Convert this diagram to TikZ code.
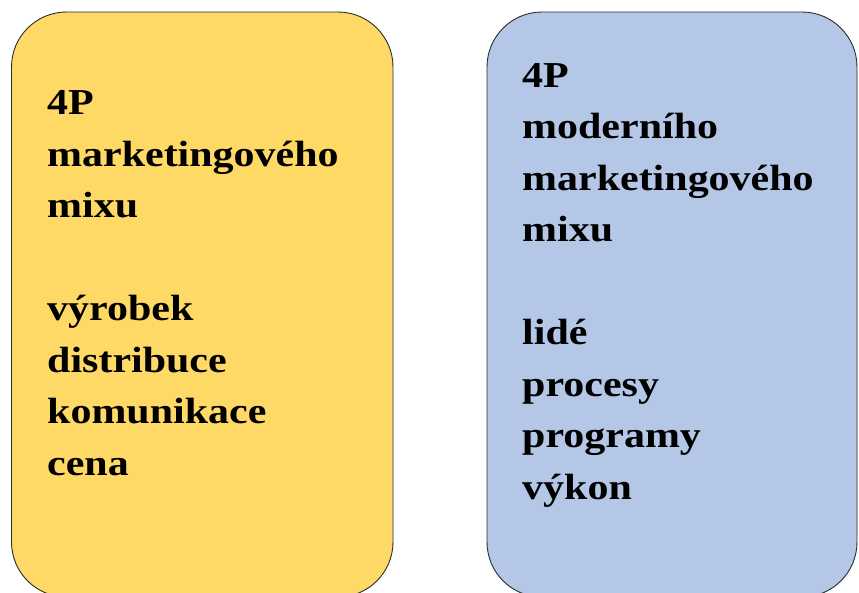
\documentclass[tikz,border=0pt]{standalone}
\usepackage{fontspec}
\newfontfamily\tnr[FakeStretch=1.15]{Liberation Serif}
\definecolor{goldbox}{HTML}{FFD966}
\definecolor{bluebox}{HTML}{B4C7E7}
\definecolor{edge}{HTML}{2B2B2B}
\begin{document}
\begin{tikzpicture}[x=1pt,y=-1pt,
  box/.style={draw=edge, line width=0.9pt, rounded corners=55pt, rectangle, inner sep=0pt},
  txt/.style={anchor=north west, inner sep=0pt, align=left,
    font=\tnr\bfseries\fontsize{36.5}{51.5}\selectfont}]
\useasboundingbox (0,0) rectangle (859,592);
\clip (0,0) rectangle (859,592);
\node[box, fill=goldbox, minimum width=381.5pt, minimum height=585pt] (L) at (202.25,304.5) {};
\node[box, fill=bluebox, minimum width=370pt, minimum height=585pt] (R) at (672,304.5) {};
\node[txt] (Ltext) at (47,84.5) {\rule{0pt}{30pt}4P\\marketingového\\mixu\\[51.5pt]výrobek\\distribuce\\komunikace\\cena};
\node[txt] (Rtext) at (522,57) {\rule{0pt}{30pt}4P\\moderního\\marketingového\\mixu\\[51.5pt]lidé\\procesy\\programy\\výkon};
\end{tikzpicture}
\end{document}
